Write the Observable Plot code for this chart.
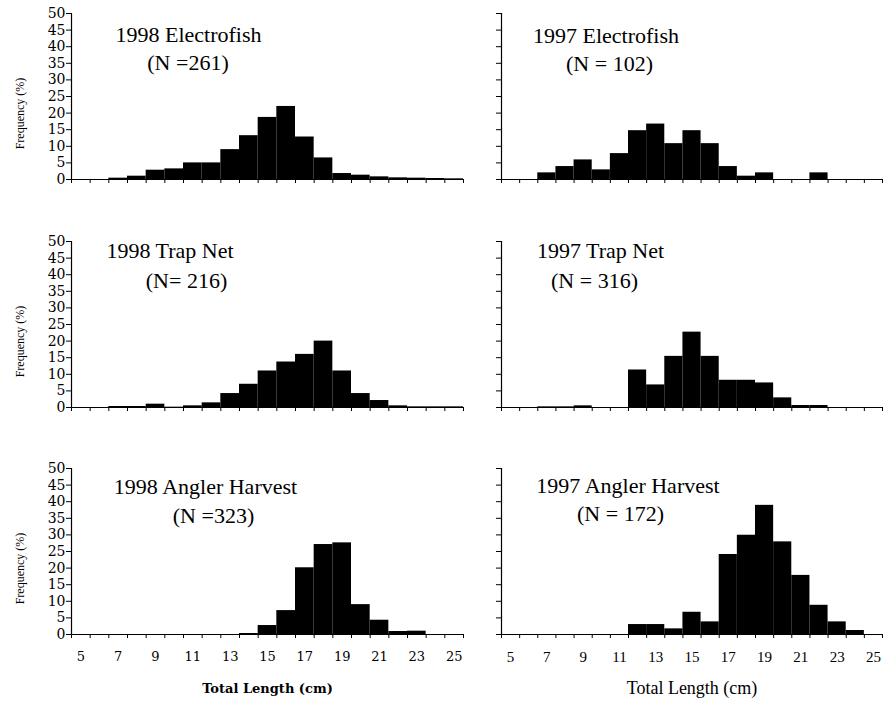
<!DOCTYPE html>
<html><head><meta charset="utf-8">
<script src="https://cdn.jsdelivr.net/npm/d3@7"></script>
<script src="https://cdn.jsdelivr.net/npm/@observablehq/plot@0.6"></script>
<style>
body{margin:0;background:#fff;}
#chart{position:relative;width:883px;height:702px;overflow:hidden;background:#fff;}
#chart svg{position:absolute;overflow:visible;background:transparent;color:#000;}
.leftpanel g[aria-label="y-axis tick label"]{font-family:"DejaVu Serif",serif;font-size:14px;}
.leftpanel g[aria-label="x-axis tick label"]{font-family:"DejaVu Serif",serif;font-size:13px;}
.rightpanel g[aria-label="x-axis tick label"]{font-family:"Liberation Serif",serif;font-size:15px;}
</style></head><body><div id="chart"></div>
<script>
// ---- data ----
const lengths = [5,6,7,8,9,10,11,12,13,14,15,16,17,18,19,20,21,22,23,24,25];
const xTickLabels = [5,7,9,11,13,15,17,19,21,23,25];
const yTicks = [0,5,10,15,20,25,30,35,40,45,50];
const titles = ["1998 Electrofish","1997 Electrofish","1998 Trap Net","1997 Trap Net","1998 Angler Harvest","1997 Angler Harvest"];
const nLabels = ["(N =261)","(N = 102)","(N= 216)","(N = 316)","(N =323)","(N = 172)"];
const yLabel = "Frequency (%)";
const xLabel = "Total Length (cm)";
const electrofish1998 = [0,0,0.4,1.0,2.8,3.2,5.0,5.0,9.0,13.2,18.7,22.0,12.8,6.5,1.8,1.3,0.8,0.5,0.4,0.3,0.2];
const electrofish1997 = [0,0,2.0,3.9,5.9,2.9,7.8,14.7,16.7,10.8,14.7,10.8,3.9,1.0,2.0,0,0,2.0,0,0,0];
const trapNet1998 = [0,0,0.3,0.3,1.0,0.1,0.5,1.4,4.2,7.0,11.0,13.7,16.0,20.0,11.0,4.2,2.1,0.5,0.2,0.2,0.2];
const trapNet1997 = [0,0,0.2,0.2,0.5,0,0,11.3,6.8,15.4,22.7,15.4,8.2,8.2,7.4,2.9,0.6,0.6,0,0,0];
const angler1998 = [0,0,0,0,0,0,0,0,0,0.3,2.7,7.2,20.1,27.1,27.6,9.0,4.3,0.9,1.0,0,0];
const angler1997 = [0,0,0,0,0,0,0,3.0,3.0,1.7,6.7,3.8,24.1,29.9,38.9,27.9,17.8,8.8,3.8,1.2,0];
const series = [electrofish1998, electrofish1997, trapNet1998, trapNet1997, angler1998, angler1997];

// ---- layout (positions / styles only) ----
const layout = [
  {tdx:117, tdy:21.5, ndx:116.5, ndy:49.5},
  {tdx:104.5, tdy:22, ndx:108, ndy:50},
  {tdx:98.5, tdy:9, ndx:115, ndy:39.5},
  {tdx:99, tdy:9, ndx:93, ndy:39.5},
  {tdx:134, tdy:18.4, ndx:142, ndy:47},
  {tdx:126.5, tdy:17, ndx:119, ndy:45}
];
const rowTops = [0, 228, 455];
const serif = "'Liberation Serif', 'Times New Roman', serif";
const wide = "'DejaVu Serif', serif";
const bounds = lengths.map(v => v - 0.5).concat([lengths[lengths.length-1] + 0.5]);

const chart = document.getElementById("chart");
series.forEach((values, i) => {
  const col = i % 2, row = Math.floor(i / 2);
  const left = col === 0, bottom = row === 2;
  const L = layout[i];
  const data = lengths.map((len, j) => ({len, pct: values[j]})).filter(d => d.pct > 0);
  const width = left ? 470 : 443;
  const height = bottom ? 247 : 200;
  const marks = [
    Plot.rectY(data, {x1: d => d.len - 0.5, x2: d => d.len + 0.5, y1: 0, y2: "pct", fill: "black"}),
    Plot.ruleY([0], {stroke: "black", strokeWidth: 1.2}),
    Plot.ruleX([bounds[0]], {stroke: "black", strokeWidth: 1.2}),
    Plot.axisX({ticks: bounds, tickFormat: () => "", tickSize: 4, label: null}),
    left
      ? Plot.axisY({ticks: yTicks, tickSize: 5, tickPadding: 1, label: null})
      : Plot.axisY({ticks: yTicks, tickSize: 5, tickFormat: () => "", label: null}),
    Plot.text([titles[i]], {frameAnchor: "top-left", dx: L.tdx, dy: L.tdy, textAnchor: "middle", lineAnchor: "middle", fontFamily: serif, fontSize: 22}),
    Plot.text([nLabels[i]], {frameAnchor: "top-left", dx: L.ndx, dy: L.ndy, textAnchor: "middle", lineAnchor: "middle", fontFamily: serif, fontSize: 22})
  ];
  if (left) {
    marks.push(Plot.text([yLabel], {frameAnchor: "left", rotate: -90, dx: -51, dy: 17, textAnchor: "middle", lineAnchor: "middle", fontFamily: serif, fontSize: 12}));
  }
  if (bottom) {
    marks.push(Plot.axisX({ticks: xTickLabels, tickSize: 0, tickPadding: 17, label: null}));
    marks.push(Plot.text([xLabel], {frameAnchor: "bottom", dy: 54, textAnchor: "middle", lineAnchor: "middle",
      fontFamily: left ? wide : serif, fontSize: left ? 13 : 18, fontWeight: left ? "bold" : "normal"}));
  }
  const svg = Plot.plot({
    width, height,
    className: left ? "leftpanel" : "rightpanel",
    marginLeft: left ? 71 : 61,
    marginRight: left ? 7 : 1,
    marginTop: 13,
    marginBottom: height - 13 - 166,
    x: {domain: [bounds[0], bounds[bounds.length-1]]},
    y: {domain: [yTicks[0], yTicks[yTicks.length-1]]},
    style: {background: "transparent", color: "black", overflow: "visible"},
    marks
  });
  svg.style.left = (left ? 0 : 440) + "px";
  svg.style.top = rowTops[row] + "px";
  chart.appendChild(svg);
});
</script></body></html>
